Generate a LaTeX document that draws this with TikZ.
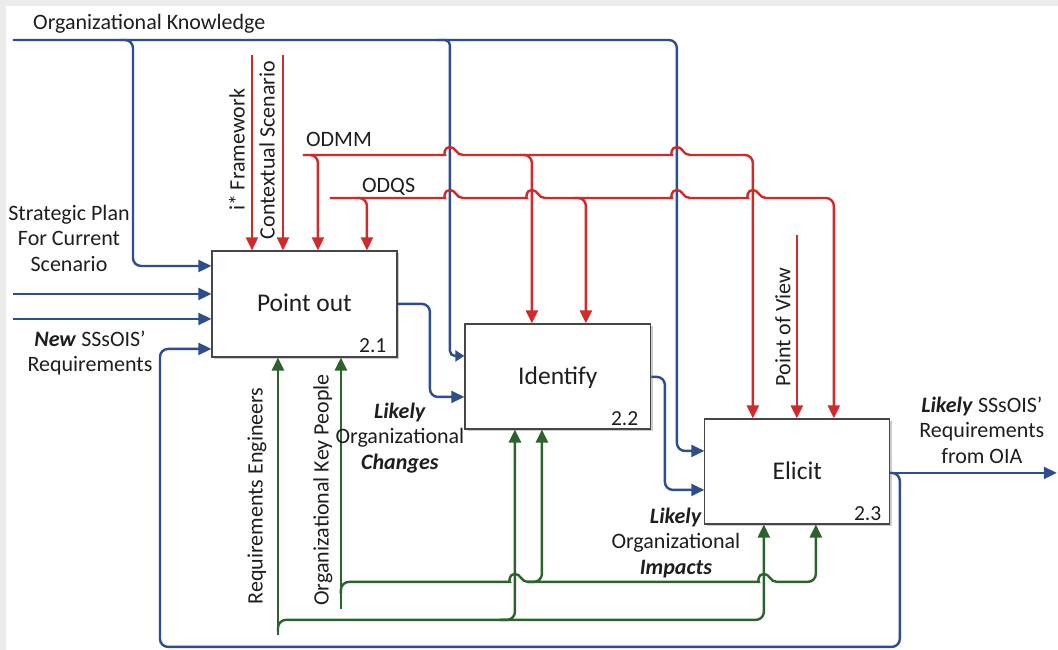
\documentclass[tikz,border=0pt]{standalone}
\usepackage{fontspec}
\setmainfont{Carlito}
\usetikzlibrary{arrows.meta,shadows}

\definecolor{flowblue}{RGB}{45,78,140}
\definecolor{flowred}{RGB}{208,42,42}
\definecolor{flowgreen}{RGB}{44,98,44}
\definecolor{boxline}{RGB}{70,70,70}
\definecolor{pagegray}{RGB}{236,236,236}
\definecolor{inktext}{RGB}{30,30,30}

% a small hump where a line passes over a crossing line (x of crossing, y of line)
\newcommand\jumpover[2]{-- (#1-13,#2) [sharp corners]
  .. controls (#1-6,#2) and (#1-6,#2-8) .. (#1,#2-8)
  .. controls (#1+6,#2-8) and (#1+6,#2) .. (#1+13,#2) [rounded corners=8pt]}

\begin{document}
\begin{tikzpicture}[x=1pt,y=-1pt,
  every node/.style={inner sep=0pt,text=inktext},
  proc/.style={draw=boxline,line width=1.2pt,fill=white,inner sep=0pt,
    text height=16pt,text depth=0pt,font=\fontsize{25.5}{28}\selectfont,
    drop shadow={shadow xshift=2.5pt,shadow yshift=-2.5pt,fill=black,opacity=0.2}},
  num/.style={font=\fontsize{21.5}{24}\selectfont,anchor=base east},
  lab/.style={font=\fontsize{22}{25.5}\selectfont,align=center},
  wire/.style={line width=2.4pt,rounded corners=8pt},
  tip/.style={-{Triangle[length=13pt,width=12pt]}},
  bwire/.style={wire,draw=flowblue},
  rwire/.style={wire,draw=flowred},
  gwire/.style={wire,draw=flowgreen}]

% page and its grey edge
\fill[pagegray] (0,0) rectangle (1058,650);
\fill[white] (6,6) rectangle (1058,650);

% activity boxes
\node[proc,minimum width=185pt,minimum height=106pt] (pout) at (304.5,304) {Point out};
\node[proc,minimum width=186pt,minimum height=105pt] (ident) at (558,376.5) {Identify};
\node[proc,minimum width=185pt,minimum height=105pt] (elic) at (797.5,471.5) {Elicit};
\node[num,xshift=-11pt,yshift=5pt] at (pout.south east) {2.1};
\node[num,xshift=-13pt,yshift=4pt] at (ident.south east) {2.2};
\node[num,xshift=-9pt,yshift=4pt] at (elic.south east) {2.3};

% free ends of the connectors
\coordinate (okstart) at (13,40);
\coordinate (okdrop) at (120,40);
\coordinate (okmid) at (437,40);
\coordinate (instart1) at (13,294);
\coordinate (instart2) at (13,319);
\coordinate (outend) at (1057,473);
\coordinate (ifw) at (252,55);
\coordinate (ctx) at (283,55);
\coordinate (odmm) at (303,155);
\coordinate (odmmA) at (310,155);
\coordinate (odmmB) at (520,155);
\coordinate (odqs) at (330,198);
\coordinate (odqsA) at (355,198);
\coordinate (odqsB) at (574,198);
\coordinate (pov) at (797,235);
\coordinate (reng) at (278,635);
\coordinate (rengA) at (278,632);
\coordinate (rengB) at (500,620);
\coordinate (okp) at (341,609);
\coordinate (okpA) at (341,594);
\coordinate (okpB) at (528,582);

% blue: inputs, outputs and feedback
\draw[bwire,tip] (okstart) -| (677,451) -- (elic.west |- 0,451);
\draw[bwire,rounded corners=5pt,-{Triangle[length=9pt,width=11pt]}] (okmid) -| (450,356) -- (ident.west |- 0,356);
\draw[bwire,tip] (okdrop) -| (133,266) -- (pout.west |- 0,266);
\draw[bwire,tip] (instart1) -- (pout.west |- 0,294);
\draw[bwire,tip] (instart2) -- (pout.west |- 0,319);
\draw[bwire,tip] (pout.east |- 0,304) -| (430,397) -- (ident.west |- 0,397);
\draw[bwire,tip] (ident.east |- 0,377) -| (665,490) -- (elic.west |- 0,490);
\draw[bwire,tip] (elic.east |- 0,473) -- (outend);
\draw[bwire,tip] (elic.east |- 0,473) -| (900,647) -| (160,349) -- (pout.west |- 0,349);

% red: controls
\draw[rwire,tip] (ifw) -- (ifw |- pout.north);
\draw[rwire,tip] (ctx) -- (ctx |- pout.north);
\draw[rwire,tip] (odmm) \jumpover{450}{155} \jumpover{677}{155} -| (elic.north -| 753,0);
\draw[rwire,tip] (odmmA) -| (pout.north -| 318,0);
\draw[rwire,tip] (odmmB) -| (ident.north -| 532,0);
\draw[rwire,tip] (odqs) \jumpover{450}{198} \jumpover{532}{198} \jumpover{677}{198} \jumpover{753}{198} -| (elic.north -| 834,0);
\draw[rwire,tip] (odqsA) -| (pout.north -| 367,0);
\draw[rwire,tip] (odqsB) -| (ident.north -| 586,0);
\draw[rwire,tip] (pov) -- (pov |- elic.north);

% green: mechanisms
\draw[gwire,tip] (reng) -- (reng |- pout.south);
\draw[gwire,tip] (rengA) |- (764,620) -- (elic.south -| 764,0);
\draw[gwire,tip] (rengB) -| (ident.south -| 515,0);
\draw[gwire,tip] (okp) -- (okp |- pout.south);
\draw[gwire,tip] (okpA) |- (400,582) \jumpover{515}{582} \jumpover{764}{582} -| (elic.south -| 816,0);
\draw[gwire,tip] (okpB) -| (ident.south -| 542,0);

% labels
\node[lab,anchor=base west] at (33,30) {Organizational Knowledge};
\node[lab] at (69,238) {Strategic Plan\\For Current\\Scenario};
\node[lab] at (90,353) {\textbf{\textit{New}} SSsOIS’\\Requirements};
\node[lab,rotate=90] at (237,150) {i* Framework};
\node[lab,rotate=90] at (267,150) {Contextual Scenario};
\node[lab,anchor=base west] at (306,147) {ODMM};
\node[lab,anchor=base west] at (362,193) {ODQS};
\node[lab,rotate=90] at (783,327) {Point of View};
\node[lab,rotate=90] at (257,496) {Requirements Engineers};
\node[lab,rotate=90] at (323,490) {Organizational Key People};
\node[lab] at (400,438) {\textbf{\textit{Likely}}\\Organizational\\\textbf{\textit{Changes}}};
\node[lab] at (676,543) {\textbf{\textit{Likely}}\\Organizational\\\textbf{\textit{Impacts}}};
\node[lab] at (982,430) {\textbf{\textit{Likely}} SSsOIS’\\Requirements\\from OIA};

\end{tikzpicture}
\end{document}
